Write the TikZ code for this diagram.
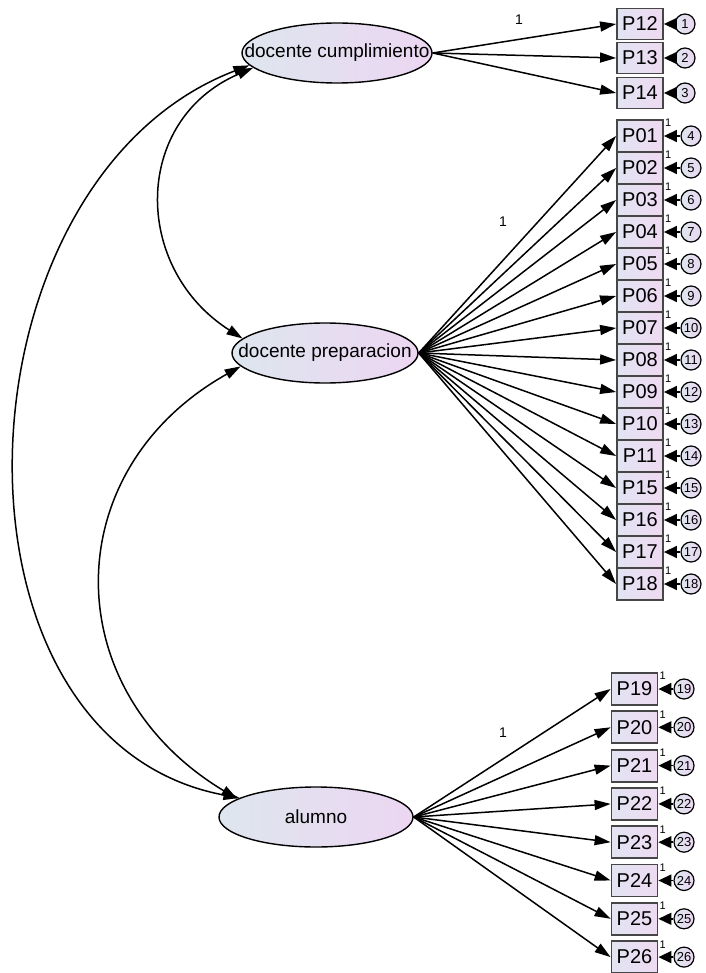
\documentclass[tikz,border=0pt]{standalone}
\usepackage{fontspec}
\setmainfont{Liberation Sans}
\usetikzlibrary{shapes.geometric,arrows.meta}
\definecolor{ellL}{RGB}{222,230,238}
\definecolor{ellR}{RGB}{236,214,242}
\definecolor{boxL}{RGB}{226,228,242}
\definecolor{boxR}{RGB}{238,218,242}
\definecolor{boxB}{RGB}{70,70,70}
\tikzset{
  latent/.style={ellipse, draw=black, line width=1.4pt, minimum width=190pt, minimum height=60pt,
    inner sep=0pt, left color=ellL, right color=ellR},
  ltext/.style={font=\fontsize{19}{20}\selectfont, inner sep=0pt},
  obs/.style={rectangle, draw=boxB, line width=1.8pt, minimum width=46pt, minimum height=32pt,
    inner sep=0pt, left color=boxL, right color=boxR, font=\fontsize{20}{22}\selectfont},
  errc/.style={circle, draw=black, line width=1.2pt, minimum size=20pt, inner sep=0pt,
    left color=ellL, right color=ellR, font=\fontsize{13}{14}\selectfont},
  pth/.style={-{Triangle[length=16pt,width=10pt]}, line width=1.5pt},
  dbl/.style={{Triangle[length=16pt,width=10pt]}-{Triangle[length=16pt,width=10pt]}, line width=1.5pt},
  earr/.style={-{Triangle[length=13pt,width=12pt]}, line width=1.5pt},
  lbl/.style={font=\fontsize{14}{15}\selectfont, inner sep=0pt},
  one/.style={font=\fontsize{11}{12}\selectfont, inner sep=0pt, anchor=south west}
}
\begin{document}
\begin{tikzpicture}[x=1pt,y=-1pt]
\useasboundingbox (0,0) rectangle (705,973);

% latent variables
\node[latent] (c) at (337,53) {};
\node[ltext] (ct) at (c.center) {docente cumplimiento};
\node[latent, minimum width=186pt] (p) at (325,353) {};
\node[ltext] (pt) at (p.center) {docente preparacion};
\node[latent, minimum width=194pt] (a) at (316,817) {};
\node[ltext] (at) at (a.center) {alumno};

% covariances
\draw[dbl] (c.190) .. controls (132,120) and (132,268) .. (p.170);
\draw[dbl] (p.189) .. controls (56,470) and (56,690) .. (a.167);
\draw[dbl] (c.188) .. controls (-50,180) and (-70,740) .. (a.166);

% docente cumplimiento indicators
\foreach \n/\e/\y in {P12/1/24, P13/2/58, P14/3/93}{
  \node[obs, minimum height=31pt] (\n) at (640,\y) {\n};
  \node[errc] (e\e) at (685,\y) {\e};
  \draw[earr] (e\e) -- (\n.east);
  \draw[pth] (c.east) -- (\n.west);
}

% docente preparacion indicators
\foreach \n/\e [count=\k from 0] in {P01/4, P02/5, P03/6, P04/7, P05/8, P06/9, P07/10, P08/11, P09/12, P10/13, P11/14, P15/15, P16/16, P17/17, P18/18}{
  \node[obs] (\n) at (640,136+32*\k) {\n};
  \node[errc] (e\e) at (691,136+32*\k) {\e};
  \draw[earr] (e\e) -- (\n.east);
  \draw[pth] (p.east) -- (\n.west);
  \node[one] (o\n) at ([xshift=1pt,yshift=-8pt]\n.north east) {1};
}

% alumno indicators
\foreach \n/\e [count=\k from 0] in {P19/19, P20/20, P21/21, P22/22, P23/23, P24/24, P25/25, P26/26}{
  \node[obs] (\n) at (634.5,689+38.3*\k) {\n};
  \node[errc] (e\e) at (684,689+38.3*\k) {\e};
  \draw[earr] (e\e) -- (\n.east);
  \draw[pth] (a.east) -- (\n.west);
  \node[one] (o\n) at ([xshift=1pt,yshift=-8pt]\n.north east) {1};
}

% fixed loadings
\node[lbl] (l1) at (519,20) {1};
\node[lbl] (l2) at (503,222) {1};
\node[lbl] (l3) at (503,733) {1};
\end{tikzpicture}
\end{document}
